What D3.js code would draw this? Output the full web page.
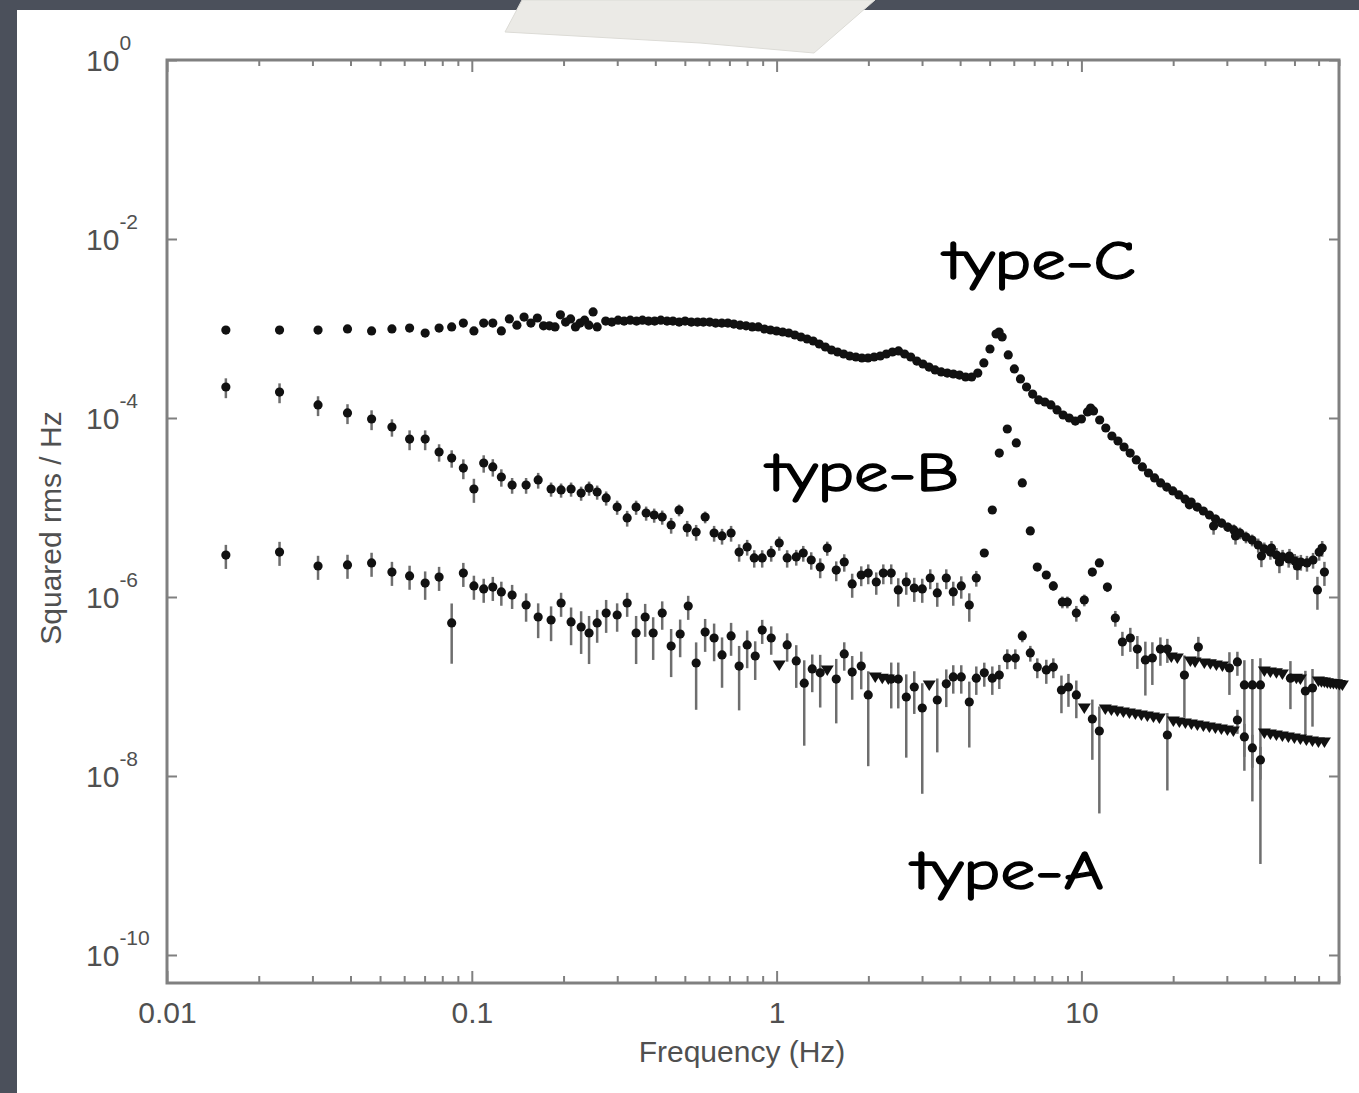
<!DOCTYPE html>
<html>
<head>
<meta charset="utf-8">
<script src="https://cdn.jsdelivr.net/npm/d3@7"></script>
<style>
  body { margin: 0; background: #4b505b; }
  svg { display: block; }
</style>
</head>
<body>
<svg id="chart" width="1359" height="1093"></svg>
<script>
// Power spectra, [frequency (Hz), squared rms / Hz, fractional error]
const typeC = [
  [0.0156, 9.6e-4, 0.03], [0.0234, 9.6e-4, 0.03], [0.0313, 9.6e-4, 0.03], [0.0391, 9.9e-4, 0.03],
  [0.0469, 9.4e-4, 0.03], [0.0547, 9.9e-4, 0.03], [0.0625, 1.01e-3, 0.03], [0.0703, 8.9e-4, 0.03],
  [0.0781, 1.01e-3, 0.03], [0.0859, 1.04e-3, 0.03], [0.0938, 1.15e-3, 0.03], [0.1016, 9.4e-4, 0.03],
  [0.1094, 1.15e-3, 0.03], [0.1172, 1.15e-3, 0.03], [0.125, 9.4e-4, 0.03], [0.1328, 1.28e-3, 0.03],
  [0.1406, 1.09e-3, 0.03], [0.1484, 1.34e-3, 0.03], [0.1563, 1.15e-3, 0.03], [0.1641, 1.31e-3, 0.03],
  [0.1719, 1.07e-3, 0.03], [0.1797, 1.07e-3, 0.03], [0.1875, 1.04e-3, 0.03], [0.1953, 1.42e-3, 0.03],
  [0.2031, 1.18e-3, 0.03], [0.2109, 1.28e-3, 0.03], [0.2188, 1.04e-3, 0.03], [0.2266, 1.15e-3, 0.03],
  [0.2344, 1.24e-3, 0.03], [0.2422, 1.09e-3, 0.03], [0.25, 1.53e-3, 0.03], [0.2578, 1.04e-3, 0.03],
  [0.275, 1.21e-3, 0.02], [0.288, 1.18e-3, 0.02], [0.302, 1.24e-3, 0.02], [0.316, 1.21e-3, 0.02],
  [0.331, 1.24e-3, 0.02], [0.347, 1.21e-3, 0.02], [0.363, 1.24e-3, 0.02], [0.380, 1.21e-3, 0.02],
  [0.398, 1.21e-3, 0.02], [0.417, 1.24e-3, 0.02], [0.437, 1.21e-3, 0.02], [0.457, 1.21e-3, 0.02],
  [0.479, 1.18e-3, 0.02], [0.501, 1.21e-3, 0.02], [0.525, 1.18e-3, 0.02], [0.550, 1.18e-3, 0.02],
  [0.575, 1.18e-3, 0.02], [0.603, 1.18e-3, 0.02], [0.631, 1.15e-3, 0.02], [0.661, 1.15e-3, 0.02],
  [0.692, 1.15e-3, 0.02], [0.724, 1.12e-3, 0.02], [0.759, 1.09e-3, 0.02], [0.794, 1.07e-3, 0.02],
  [0.832, 1.04e-3, 0.02], [0.871, 1.04e-3, 0.02], [0.912, 9.87e-4, 0.02], [0.955, 9.62e-4, 0.02],
  [1.000, 9.38e-4, 0.02], [1.047, 9.14e-4, 0.02], [1.096, 8.91e-4, 0.02], [1.148, 8.46e-4, 0.02],
  [1.202, 8.04e-4, 0.02], [1.259, 7.63e-4, 0.02], [1.318, 7.25e-4, 0.02], [1.380, 6.71e-4, 0.02],
  [1.445, 6.21e-4, 0.02], [1.514, 5.75e-4, 0.02], [1.585, 5.46e-4, 0.02], [1.660, 5.19e-4, 0.02],
  [1.738, 4.93e-4, 0.02], [1.820, 4.80e-4, 0.02], [1.905, 4.68e-4, 0.02], [1.995, 4.68e-4, 0.02],
  [2.089, 4.80e-4, 0.02], [2.188, 4.93e-4, 0.02], [2.291, 5.19e-4, 0.02], [2.399, 5.46e-4, 0.02],
  [2.512, 5.61e-4, 0.02], [2.630, 5.19e-4, 0.02], [2.754, 4.80e-4, 0.02], [2.884, 4.33e-4, 0.02],
  [3.020, 4.01e-4, 0.02], [3.162, 3.71e-4, 0.02], [3.311, 3.44e-4, 0.02], [3.467, 3.27e-4, 0.02],
  [3.631, 3.18e-4, 0.02], [3.802, 3.10e-4, 0.02], [3.981, 3.02e-4, 0.02], [4.169, 2.87e-4, 0.02],
  [4.365, 2.87e-4, 0.02], [4.571, 3.18e-4, 0.02], [4.786, 4.12e-4, 0.02], [5.012, 5.90e-4, 0.02],
  [5.248, 8.68e-4, 0.02], [5.370, 9.14e-4, 0.02], [5.495, 8.04e-4, 0.02], [5.754, 5.06e-4, 0.02],
  [6.026, 3.53e-4, 0.02], [6.310, 2.73e-4, 0.02], [6.607, 2.22e-4, 0.02], [6.918, 1.85e-4, 0.02],
  [7.244, 1.59e-4, 0.02], [7.586, 1.51e-4, 0.02], [7.943, 1.40e-4, 0.02], [8.318, 1.23e-4, 0.02],
  [8.710, 1.08e-4, 0.02], [9.120, 1.00e-4, 0.02], [9.550, 9.25e-5, 0.02], [10.00, 9.75e-5, 0.02],
  [10.47, 1.17e-4, 0.02], [10.72, 1.29e-4, 0.02], [10.96, 1.20e-4, 0.02], [11.48, 9.50e-5, 0.02],
  [12.02, 7.73e-5, 0.03], [12.59, 6.29e-5, 0.03], [13.18, 5.53e-5, 0.03], [13.80, 4.74e-5, 0.03],
  [14.45, 4.06e-5, 0.03], [15.14, 3.40e-5, 0.04], [15.85, 2.84e-5, 0.04], [16.60, 2.43e-5, 0.04],
  [17.38, 2.14e-5, 0.05], [18.20, 1.88e-5, 0.05], [19.05, 1.69e-5, 0.05], [19.95, 1.53e-5, 0.06],
  [20.89, 1.38e-5, 0.06], [21.88, 1.24e-5, 0.06], [22.6, 1.07e-5, 0.08], [22.91, 1.15e-5, 0.08],
  [23.99, 1.01e-5, 0.08], [25.12, 9.14e-6, 0.1], [26.30, 8.24e-6, 0.1], [27.14, 6.21e-6, 0.2],
  [27.54, 7.44e-6, 0.12], [28.84, 6.71e-6, 0.12], [30.20, 6.05e-6, 0.12], [31.62, 5.61e-6, 0.15],
  [32.03, 4.81e-6, 0.2], [33.11, 5.19e-6, 0.15], [34.67, 4.68e-6, 0.15], [36.31, 4.33e-6, 0.15],
  [38.02, 3.81e-6, 0.18], [38.95, 2.87e-6, 0.25], [39.81, 3.44e-6, 0.18], [41.69, 3.18e-6, 0.18],
  [42.03, 3.52e-6, 0.2], [43.65, 2.94e-6, 0.2], [44.62, 2.46e-6, 0.25], [45.71, 2.80e-6, 0.2],
  [47.86, 2.66e-6, 0.2], [48.15, 2.87e-6, 0.2], [50.12, 2.52e-6, 0.2], [51.11, 2.22e-6, 0.3],
  [52.48, 2.46e-6, 0.2], [54.95, 2.40e-6, 0.2], [57.54, 2.59e-6, 0.2], [59.47, 1.20e-6, 0.4],
  [60.26, 3.18e-6, 0.2], [61.66, 3.52e-6, 0.2], [62.70, 1.90e-6, 0.3]
];

const typeB = [
  [0.0156, 2.22e-4, 0.25], [0.0234, 1.95e-4, 0.25], [0.0313, 1.40e-4, 0.25], [0.0391, 1.14e-4, 0.25],
  [0.0469, 9.75e-5, 0.25], [0.0547, 7.93e-5, 0.22], [0.0625, 5.82e-5, 0.25], [0.0703, 5.82e-5, 0.25],
  [0.0781, 4.17e-5, 0.22], [0.0859, 3.57e-5, 0.22], [0.0938, 2.76e-5, 0.25], [0.1016, 1.61e-5, 0.3],
  [0.1094, 3.14e-5, 0.22], [0.1172, 2.84e-5, 0.22], [0.125, 2.19e-5, 0.22], [0.1356, 1.78e-5, 0.2],
  [0.1507, 1.78e-5, 0.2], [0.1651, 2.03e-5, 0.2], [0.1820, 1.61e-5, 0.18], [0.1963, 1.57e-5, 0.18],
  [0.2117, 1.61e-5, 0.18], [0.2284, 1.45e-5, 0.18], [0.2425, 1.65e-5, 0.18], [0.2578, 1.49e-5, 0.18],
  [0.2759, 1.28e-5, 0.18], [0.2998, 1.01e-5, 0.18], [0.3234, 7.64e-6, 0.2], [0.3460, 1.01e-5, 0.18],
  [0.3732, 8.68e-6, 0.18], [0.3966, 8.24e-6, 0.18], [0.4214, 7.83e-6, 0.18], [0.4508, 6.37e-6, 0.2],
  [0.4786, 9.37e-6, 0.15], [0.5090, 5.90e-6, 0.2], [0.5445, 5.32e-6, 0.2], [0.5828, 7.83e-6, 0.15],
  [0.6237, 5.19e-6, 0.2], [0.6622, 4.81e-6, 0.2], [0.7090, 5.19e-6, 0.2], [0.7534, 3.18e-6, 0.22],
  [0.8006, 3.62e-6, 0.2], [0.8444, 2.73e-6, 0.22], [0.8969, 2.73e-6, 0.22], [0.9600, 3.10e-6, 0.2],
  [1.020, 4.01e-6, 0.18], [1.083, 2.73e-6, 0.22], [1.160, 2.80e-6, 0.2], [1.223, 3.10e-6, 0.2],
  [1.299, 2.59e-6, 0.22], [1.390, 2.16e-6, 0.25], [1.466, 3.52e-6, 0.18], [1.569, 2.00e-6, 0.25],
  [1.667, 2.46e-6, 0.22], [1.770, 1.40e-6, 0.3], [1.895, 1.76e-6, 0.25], [1.998, 1.85e-6, 0.25],
  [2.123, 1.47e-6, 0.28], [2.239, 1.85e-6, 0.25], [2.377, 1.85e-6, 0.25], [2.507, 1.20e-6, 0.35],
  [2.663, 1.47e-6, 0.28], [2.829, 1.26e-6, 0.3], [3.005, 1.23e-6, 0.3], [3.192, 1.63e-6, 0.25],
  [3.366, 1.11e-6, 0.3], [3.603, 1.63e-6, 0.25], [3.798, 1.14e-6, 0.3], [4.035, 1.33e-6, 0.28],
  [4.287, 8.14e-7, 0.35], [4.520, 1.63e-6, 0.2], [4.801, 3.10e-6, 0.1], [5.101, 9.37e-6, 0.05],
  [5.378, 4.06e-5, 0.04], [5.712, 7.53e-5, 0.04], [6.115, 5.26e-5, 0.04], [6.399, 1.88e-5, 0.05],
  [6.797, 5.47e-6, 0.06], [7.166, 2.16e-6, 0.08], [7.670, 1.76e-6, 0.1], [8.088, 1.33e-6, 0.12],
  [8.659, 8.79e-7, 0.15], [8.992, 8.79e-7, 0.15], [9.623, 6.62e-7, 0.2], [10.22, 9.25e-7, 0.15],
  [10.86, 1.90e-6, 0.08], [11.45, 2.40e-6, 0.06], [12.17, 1.29e-6, 0.12], [12.92, 5.82e-7, 0.2],
  [13.63, 3.14e-7, 0.3], [14.47, 3.48e-7, 0.3], [15.26, 2.62e-7, 0.4], [16.21, 1.98e-7, 0.6],
  [17.09, 2.08e-7, 0.5], [18.16, 2.62e-7, 0.35], [19.14, 2.62e-7, 0.3], [21.77, 1.34e-7, 0.66],
  [24.19, 2.76e-7, 0.3], [30.59, 1.61e-7, 0.5], [32.49, 1.88e-7, 0.3], [34.25, 1.04e-7, 0.89],
  [36.38, 1.04e-7, 0.95], [38.66, 1.04e-7, 0.99], [48.5, 1.24e-7, 0.55], [54.3, 8.91e-8, 0.68],
  [57.3, 9.62e-8, 0.63]
];

const typeA = [
  [0.0156, 2.94e-6, 0.3], [0.0234, 3.18e-6, 0.3], [0.0313, 2.22e-6, 0.3], [0.0391, 2.28e-6, 0.3],
  [0.0469, 2.40e-6, 0.3], [0.0547, 1.90e-6, 0.3], [0.0625, 1.72e-6, 0.3], [0.0703, 1.43e-6, 0.35],
  [0.0781, 1.67e-6, 0.3], [0.0859, 5.13e-7, 0.65], [0.0938, 1.85e-6, 0.3], [0.1016, 1.33e-6, 0.3],
  [0.1094, 1.23e-6, 0.3], [0.1172, 1.29e-6, 0.3], [0.125, 1.14e-6, 0.3], [0.1356, 1.05e-6, 0.3],
  [0.1507, 8.14e-7, 0.35], [0.1651, 5.98e-7, 0.42], [0.1820, 5.53e-7, 0.42], [0.1963, 8.57e-7, 0.3],
  [0.2117, 5.26e-7, 0.45], [0.2284, 4.62e-7, 0.5], [0.2425, 3.96e-7, 0.55], [0.2578, 5.13e-7, 0.4],
  [0.2759, 6.62e-7, 0.4], [0.2998, 6.29e-7, 0.35], [0.3234, 8.57e-7, 0.3], [0.3460, 3.96e-7, 0.55],
  [0.3705, 5.98e-7, 0.4], [0.3936, 3.96e-7, 0.5], [0.4214, 6.62e-7, 0.35], [0.4508, 2.83e-7, 0.55],
  [0.4826, 3.86e-7, 0.45], [0.5128, 7.93e-7, 0.3], [0.5445, 1.83e-7, 0.7], [0.5828, 4.06e-7, 0.4],
  [0.6237, 3.48e-7, 0.45], [0.6622, 2.25e-7, 0.57], [0.7090, 3.67e-7, 0.4], [0.7534, 1.69e-7, 0.68],
  [0.8006, 2.91e-7, 0.45], [0.8507, 2.19e-7, 0.46], [0.8969, 4.27e-7, 0.3], [0.9600, 3.48e-7, 0.35],
  [1.083, 2.91e-7, 0.35], [1.160, 1.93e-7, 0.5], [1.232, 1.09e-7, 0.8], [1.309, 1.57e-7, 0.45],
  [1.390, 1.42e-7, 0.59], [1.569, 1.21e-7, 0.68], [1.667, 2.31e-7, 0.35], [1.770, 1.45e-7, 0.51],
  [1.895, 1.69e-7, 0.45], [1.998, 8.04e-8, 0.84], [2.377, 1.21e-7, 0.53], [2.507, 1.21e-7, 0.53],
  [2.663, 7.63e-8, 0.79], [2.829, 9.87e-8, 0.5], [3.005, 5.75e-8, 0.89], [3.366, 7.06e-8, 0.74],
  [3.603, 1.07e-7, 0.45], [3.798, 1.28e-7, 0.35], [4.035, 1.28e-7, 0.35], [4.287, 6.71e-8, 0.69],
  [4.520, 1.24e-7, 0.35], [4.801, 1.42e-7, 0.3], [5.101, 1.24e-7, 0.35], [5.378, 1.34e-7, 0.3],
  [5.712, 2.08e-7, 0.25], [6.069, 2.08e-7, 0.25], [6.399, 3.67e-7, 0.15], [6.797, 2.37e-7, 0.2],
  [7.166, 1.65e-7, 0.25], [7.670, 1.53e-7, 0.3], [8.088, 1.65e-7, 0.25], [8.600, 9.14e-8, 0.45],
  [9.067, 9.87e-8, 0.4], [9.623, 8.04e-8, 0.45], [10.86, 4.33e-8, 0.65], [11.45, 3.18e-8, 0.88],
  [19.14, 2.87e-8, 0.76], [32.49, 4.22e-8, 0.3], [34.25, 2.73e-8, 0.4], [36.38, 2.06e-8, 0.4],
  [38.66, 1.51e-8, 0.4]
];

// Upper limits, [frequency (Hz), squared rms / Hz]
const limitsB = [
  [19.72, 2.14e-7], [20.64, 2.08e-7], [22.78, 1.93e-7], [23.6, 1.88e-7], [25.31, 1.83e-7],
  [26.49, 1.79e-7], [27.72, 1.74e-7], [29.01, 1.69e-7], [39.83, 1.49e-7], [41.68, 1.45e-7],
  [43.62, 1.42e-7], [45.64, 1.38e-7], [50.73, 1.24e-7], [52.29, 1.21e-7], [59.92, 1.15e-7],
  [61.3, 1.13e-7], [62.70, 1.12e-7], [64.1, 1.10e-7], [65.61, 1.09e-7], [67.1, 1.08e-7],
  [68.65, 1.07e-7], [70.2, 1.05e-7], [71.82, 1.04e-7]
];

const limitsA = [
  [1.020, 1.74e-7], [1.466, 1.53e-7], [2.107, 1.28e-7], [2.222, 1.24e-7], [2.325, 1.21e-7],
  [3.168, 1.04e-7], [10.22, 5.75e-8], [11.98, 5.61e-8], [12.54, 5.46e-8], [13.12, 5.32e-8],
  [13.73, 5.19e-8], [14.37, 5.06e-8], [15.03, 4.93e-8], [15.73, 4.80e-8], [16.46, 4.68e-8],
  [17.23, 4.56e-8], [18.02, 4.45e-8], [20.03, 4.11e-8], [20.96, 4.01e-8], [21.93, 3.91e-8],
  [22.95, 3.81e-8], [24.01, 3.71e-8], [25.13, 3.62e-8], [26.29, 3.52e-8], [27.51, 3.44e-8],
  [28.79, 3.35e-8], [30.13, 3.27e-8], [31.52, 3.18e-8], [39.83, 3.02e-8], [41.68, 2.94e-8],
  [43.62, 2.87e-8], [45.64, 2.80e-8], [47.75, 2.73e-8], [49.96, 2.66e-8], [52.29, 2.59e-8],
  [54.71, 2.52e-8], [57.26, 2.46e-8], [59.92, 2.40e-8], [62.70, 2.40e-8]
];

const xMajor = [0.01, 0.1, 1, 10];
const xMinor = [0.02, 0.03, 0.04, 0.05, 0.06, 0.07, 0.08, 0.09,
  0.2, 0.3, 0.4, 0.5, 0.6, 0.7, 0.8, 0.9, 2, 3, 4, 5, 6, 7, 8, 9,
  20, 30, 40, 50, 60, 70];
const xLabels = ['0.01', '0.1', '1', '10'];
const yMajor = [1, 1e-2, 1e-4, 1e-6, 1e-8, 1e-10];
const yExponents = ['0', '-2', '-4', '-6', '-8', '-10'];

const seriesLabels = [
  { text: 'type-C', x: 944, y: 279 },
  { text: 'type-B', x: 767, y: 491 },
  { text: 'type-A', x: 912, y: 889 }
];

const width = 1359, height = 1093;
const svg = d3.select('#chart');

// Slide background, paper and tape
svg.append('rect').attr('width', width).attr('height', height).attr('fill', '#4b505b');
svg.append('rect')
  .attr('x', 17).attr('y', 10)
  .attr('width', width - 17).attr('height', height - 10)
  .attr('fill', '#ffffff');
svg.append('path')
  .attr('d', 'M522,0 L505,32 L700,43 L814,53 L875,0 Z')
  .attr('fill', '#ebeae6')
  .attr('stroke', '#dcdbd6')
  .attr('stroke-width', 1);

const yMin = Math.pow(10, -10.313);
const x = d3.scaleLog().domain([0.01, 70]).range([167, 1339]);
const y = d3.scaleLog().domain([yMin, 1]).range([983, 60]);

const axisFont = '"Liberation Sans", Arial, Helvetica, sans-serif';
const axisColor = '#808080';
const labelColor = '#505050';

// Frame
svg.append('rect')
  .attr('x', x(0.01)).attr('y', y(1))
  .attr('width', x(70) - x(0.01)).attr('height', y(yMin) - y(1))
  .attr('fill', 'none')
  .attr('stroke', axisColor)
  .attr('stroke-width', 3);

function styleAxis(g) {
  g.select('.domain').remove();
  g.selectAll('.tick line').attr('stroke', axisColor).attr('stroke-width', 2);
}

// Bottom axis: minor then major ticks, pointing inward
svg.append('g')
  .attr('transform', `translate(0, ${y(yMin)})`)
  .call(d3.axisBottom(x).tickValues(xMinor).tickSize(-7).tickFormat(''))
  .call(styleAxis);

const xAxis = svg.append('g')
  .attr('transform', `translate(0, ${y(yMin)})`)
  .call(d3.axisBottom(x).tickValues(xMajor).tickSize(-12).tickPadding(19)
    .tickFormat((d, i) => xLabels[i]))
  .call(styleAxis);

xAxis.selectAll('.tick text')
  .attr('fill', labelColor)
  .style('font-family', axisFont)
  .style('font-size', '30px');

// Top axis
svg.append('g')
  .attr('transform', `translate(0, ${y(1)})`)
  .call(d3.axisTop(x).tickValues(xMinor).tickSize(-6).tickFormat(''))
  .call(styleAxis);
svg.append('g')
  .attr('transform', `translate(0, ${y(1)})`)
  .call(d3.axisTop(x).tickValues(xMajor).tickSize(-12).tickFormat(''))
  .call(styleAxis);

// Left and right axes
svg.append('g')
  .attr('transform', `translate(${x(0.01)}, 0)`)
  .call(d3.axisLeft(y).tickValues(yMajor).tickSize(-10).tickFormat(''))
  .call(styleAxis);
svg.append('g')
  .attr('transform', `translate(${x(70)}, 0)`)
  .call(d3.axisRight(y).tickValues(yMajor).tickSize(-10).tickFormat(''))
  .call(styleAxis);

// Y tick labels with exponents
const yLabels = svg.append('g')
  .selectAll('text')
  .data(yMajor)
  .join('text')
  .attr('x', 86)
  .attr('y', d => y(d) + 11)
  .attr('fill', labelColor)
  .style('font-family', axisFont)
  .style('font-size', '30px');

yLabels.append('tspan').text('10');
yLabels.append('tspan')
  .attr('dy', -21)
  .style('font-size', '21px')
  .text((d, i) => yExponents[i]);

// Axis titles
svg.append('text')
  .attr('x', 742).attr('y', 1062)
  .attr('text-anchor', 'middle')
  .attr('fill', labelColor)
  .style('font-family', axisFont)
  .style('font-size', '30px')
  .text('Frequency (Hz)');

svg.append('text')
  .attr('transform', 'translate(61, 528) rotate(-90)')
  .attr('text-anchor', 'middle')
  .attr('fill', labelColor)
  .style('font-family', axisFont)
  .style('font-size', '30px')
  .text('Squared rms / Hz');

// Data
const plot = svg.append('g');
const allSeries = [typeC, typeB, typeA];

allSeries.forEach(data => {
  plot.append('g')
    .selectAll('line')
    .data(data)
    .join('line')
    .attr('x1', d => x(d[0]))
    .attr('x2', d => x(d[0]))
    .attr('y1', d => y(d[1] * (1 + d[2])))
    .attr('y2', d => y(Math.max(d[1] * (1 - d[2]), yMin)))
    .attr('stroke', '#6e6e6e')
    .attr('stroke-width', 2.5);
});

allSeries.forEach(data => {
  plot.append('g')
    .selectAll('circle')
    .data(data)
    .join('circle')
    .attr('cx', d => x(d[0]))
    .attr('cy', d => y(d[1]))
    .attr('r', 4.6)
    .attr('fill', '#111');
});

[limitsB, limitsA].forEach(data => {
  plot.append('g')
    .selectAll('path')
    .data(data)
    .join('path')
    .attr('d', d => {
      const cx = x(d[0]), cy = y(d[1]);
      return `M${cx - 6.5},${cy - 4.5}L${cx + 6.5},${cy - 4.5}L${cx},${cy + 6}Z`;
    })
    .attr('fill', '#111');
});

// Hand-written series labels
svg.append('g')
  .selectAll('text')
  .data(seriesLabels)
  .join('text')
  .attr('x', d => d.x)
  .attr('y', d => d.y)
  .attr('textLength', 192)
  .attr('lengthAdjust', 'spacingAndGlyphs')
  .attr('fill', '#000')
  .attr('stroke', '#000')
  .attr('stroke-width', 1.3)
  .style('font-family', '"Comic Sans MS", "Comic Neue", "DejaVu Sans", sans-serif')
  .style('font-size', '54px')
  .text(d => d.text);
</script>
</body>
</html>
